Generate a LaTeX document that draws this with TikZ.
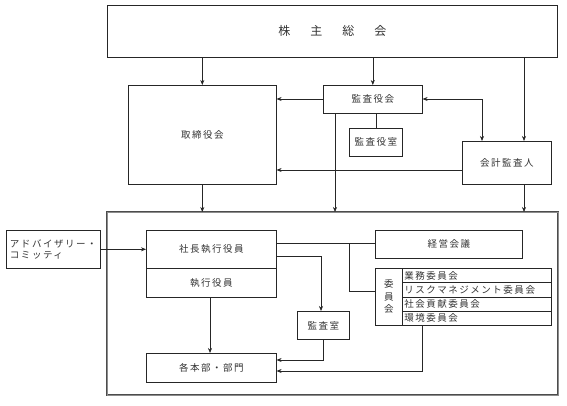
\documentclass[tikz,border=0pt]{standalone}
\usepackage{fontspec}
\newfontfamily\jp{Noto Sans CJK JP}
\newfontfamily\jpsp[LetterSpace=16]{Noto Sans CJK JP}
\usetikzlibrary{arrows.meta,calc}
\begin{document}
\begin{tikzpicture}[x=1pt,y=-1pt,
  box/.style={draw=black!85,line width=0.6pt,anchor=north west,inner sep=0pt,text=black!80,font=\jpsp\fontsize{9.5}{11}\selectfont},
  ln/.style={draw=black!85,line width=0.6pt},
  arr/.style={ln,-{Stealth[length=5pt,width=4pt]}},
  darr/.style={ln,{Stealth[length=5pt,width=4pt]}-{Stealth[length=5pt,width=4pt]}},
  outerbox/.style={draw=black!70,double=black!45,double distance=0.7pt,line width=0.7pt,anchor=north west,inner sep=0pt}]
\useasboundingbox (0,0) rectangle (567,406);
% top level
\node[box,minimum width=450pt,minimum height=52pt,font=\jp\fontsize{12}{14}\selectfont] (kabu) at (107,5) {株\hspace{20pt}主\hspace{20pt}総\hspace{20pt}会};
\node[box,minimum width=148pt,minimum height=99pt] (tori) at (128,85) {取締役会};
\node[box,minimum width=99pt,minimum height=28pt] (kyk) at (323,85) {監査役会};
\node[box,minimum width=53pt,minimum height=28pt] (kys) at (349,128) {監査役室};
\node[box,minimum width=89pt,minimum height=43pt] (kaikei) at (462,141) {会計監査人};
% outer frame
\node[outerbox,minimum width=451pt,minimum height=183pt] (outer) at (107,212) {};
% inner
\node[box,minimum width=94pt,minimum height=38pt,align=left] (adv) at (6,230) {アドバイザリー・\\コミッティ\hspace*{30pt}};
\node[box,minimum width=130pt,minimum height=38pt] (shacho) at (146,230) {社長執行役員};
\node[box,minimum width=130pt,minimum height=29pt] (shikko) at (146,268) {執行役員};
\node[box,minimum width=130pt,minimum height=29pt] (honbu) at (146,353) {各本部・部門};
\node[box,minimum width=147pt,minimum height=28pt] (keiei) at (375,230) {経営会議};
\node[box,minimum width=27pt,minimum height=57pt,align=center,font=\jp\fontsize{9.5}{12.5}\selectfont] (iin) at (375,268) {委\\員\\会};
\node[box,minimum width=149pt,minimum height=14.25pt,text width=145pt,align=left] (r1) at (402,268) {業務委員会};
\node[box,minimum width=149pt,minimum height=14.25pt,text width=145pt,align=left] (r2) at (402,282.25) {リスクマネジメント委員会};
\node[box,minimum width=149pt,minimum height=14.25pt,text width=145pt,align=left] (r3) at (402,296.5) {社会貢献委員会};
\node[box,minimum width=149pt,minimum height=14.25pt,text width=145pt,align=left] (r4) at (402,310.75) {環境委員会};
\node[box,minimum width=52pt,minimum height=28pt] (ksh) at (297,311) {監査室};
% coordinates
\coordinate (p524) at (524,0);
\coordinate (p335) at (335,0);
\coordinate (p482) at (482,0);
\coordinate (y243) at (0,243);
\coordinate (y256) at (0,256);
\coordinate (y99) at (0,99);
\coordinate (y170) at (0,170);
\coordinate (x349) at (349,0);
\coordinate (y291) at (0,291);
\coordinate (x321) at (321,0);
\coordinate (y360) at (0,360);
\coordinate (y371) at (0,371);
\coordinate (x323) at (323,0);
\coordinate (x422) at (422,0);
\coordinate (x210) at (210,0);
% top connectors
\draw[arr] (tori.north |- kabu.south) -- (tori.north);
\draw[arr] (kyk.north |- kabu.south) -- (kyk.north);
\draw[arr] (p524 |- kabu.south) -- (p524 |- kaikei.north);
\draw[arr] (kyk.west |- y99) -- (tori.east |- y99);
\draw[darr] (kyk.east |- y99) -- (p482 |- y99) -- (p482 |- kaikei.north);
\draw[arr] (kaikei.west |- y170) -- (tori.east |- y170);
\draw[ln] (kys.north |- kyk.south) -- (kys.north);
\draw[arr] (p335 |- kyk.south) -- (p335 |- outer.north);
\draw[arr] (tori.south) -- (tori.south |- outer.north);
\draw[arr] (p524 |- kaikei.south) -- (p524 |- outer.north);
% inner connectors
\draw[arr] (adv.east |- shacho.west) -- (shacho.west);
\draw[ln] (shacho.east |- y243) -- (keiei.west |- y243);
\draw[ln] (x349 |- y243) -- (x349 |- y291) -- (iin.west |- y291);
\draw[arr] (shacho.east |- y256) -- (x321 |- y256) -- (x321 |- ksh.north);
\draw[arr] (x210 |- shikko.south) -- (x210 |- honbu.north);
\draw[arr] (x323 |- ksh.south) -- (x323 |- y360) -- (honbu.east |- y360);
\draw[arr] (x422 |- r4.south) -- (x422 |- y371) -- (honbu.east |- y371);
\end{tikzpicture}
\end{document}
